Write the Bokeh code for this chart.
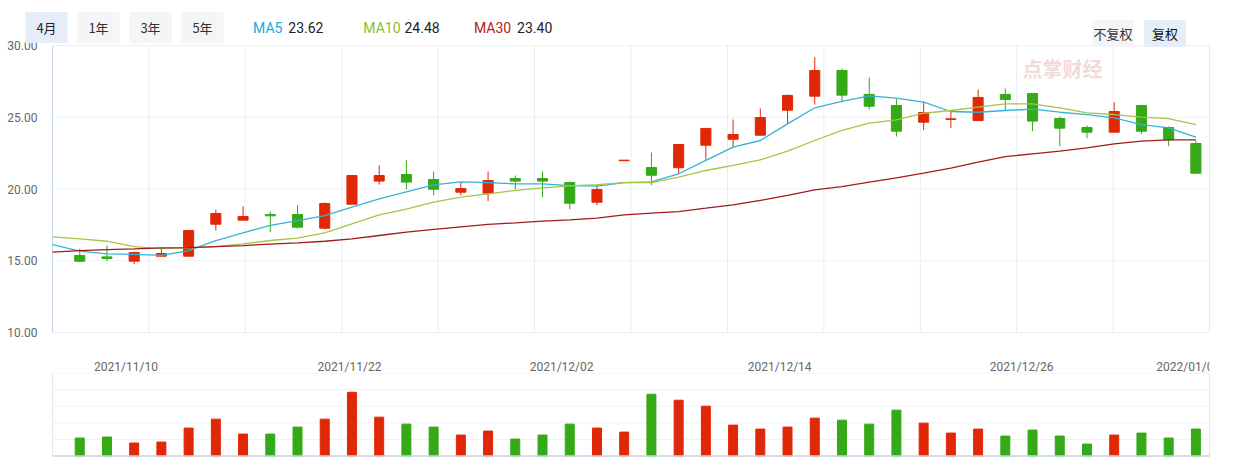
from bokeh.plotting import figure
from bokeh.models import Range1d, Label
from bokeh.layouts import column
from bokeh.core.properties import value
from bokeh.embed import file_html
from bokeh.resources import INLINE

# ---------------- data ----------------
day_index = list(range(1, 43))
open_ = [15.37, 15.27, 14.97, 15.32, 15.32, 17.55, 17.83, 18.22, 18.22, 17.27,
         18.94, 20.55, 21.01, 20.66, 19.78, 19.71, 20.73, 20.73, 20.45, 19.08,
         21.97, 21.50, 21.48, 23.05, 23.47, 23.75, 25.49, 26.47, 28.26, 26.59,
         25.82, 24.66, 24.84, 24.77, 26.59, 26.66, 24.91, 24.29, 23.96, 25.82,
         24.29, 23.17]
high = [15.83, 16.06, 15.64, 15.83, 17.11, 18.57, 18.80, 18.43, 18.87, 19.06,
        20.94, 21.66, 22.01, 21.22, 20.48, 21.22, 20.94, 21.22, 20.52, 20.31,
        22.01, 22.54, 23.10, 24.22, 24.84, 25.61, 26.59, 29.19, 28.40, 27.77,
        26.28, 26.07, 25.52, 26.93, 27.00, 26.66, 25.05, 24.42, 26.05, 25.82,
        24.36, 23.38]
low = [14.90, 14.97, 14.76, 15.32, 15.32, 17.11, 17.83, 16.99, 17.25, 17.18,
       18.94, 20.31, 19.97, 19.57, 19.57, 19.15, 19.97, 19.43, 18.59, 18.87,
       21.97, 20.27, 21.06, 22.03, 22.89, 23.75, 24.54, 25.89, 26.05, 25.54,
       23.66, 24.10, 24.24, 24.73, 25.47, 24.03, 22.98, 23.54, 23.96, 23.82,
       22.98, 21.10]
close = [14.97, 15.16, 15.57, 15.50, 17.11, 18.29, 18.08, 18.13, 17.34, 18.99,
         20.94, 20.94, 20.48, 19.99, 20.03, 20.59, 20.55, 20.55, 19.01, 19.97,
         22.01, 20.96, 23.10, 24.22, 23.80, 24.98, 26.52, 28.26, 26.54, 25.77,
         24.03, 25.33, 24.89, 26.38, 26.24, 24.73, 24.24, 23.96, 25.40, 24.03,
         23.43, 21.10]
volume = [1.08, 1.14, 0.78, 0.84, 1.68, 2.22, 1.32, 1.32, 1.74, 2.22,
          3.84, 2.34, 1.92, 1.74, 1.26, 1.50, 1.02, 1.26, 1.92, 1.68,
          1.44, 3.72, 3.36, 3.00, 1.86, 1.62, 1.74, 2.28, 2.16, 1.92,
          2.76, 1.98, 1.38, 1.62, 1.20, 1.56, 1.20, 0.72, 1.26, 1.38,
          1.08, 1.62]

ma_index = list(range(0, 43))
ma5 = [16.13, 15.67, 15.48, 15.44, 15.37, 15.71, 16.41, 16.95, 17.46, 17.80,
       18.15, 18.73, 19.31, 19.80, 20.29, 20.50, 20.45, 20.36, 20.36, 20.24,
       20.20, 20.45, 20.50, 21.06, 21.99, 22.92, 23.38, 24.54, 25.66, 26.10,
       26.49, 26.33, 26.05, 25.40, 25.35, 25.47, 25.56, 25.35, 25.19, 24.96,
       24.49, 24.26, 23.61]
ma10 = [16.67, 16.53, 16.36, 15.99, 15.85, 15.90, 15.99, 16.18, 16.41, 16.57,
        16.95, 17.57, 18.20, 18.60, 19.08, 19.43, 19.66, 19.90, 20.08, 20.22,
        20.31, 20.45, 20.45, 20.82, 21.29, 21.64, 22.03, 22.64, 23.38, 24.08,
        24.59, 24.82, 25.28, 25.47, 25.70, 25.93, 25.93, 25.66, 25.31, 25.19,
        25.01, 24.91, 24.49]
ma30 = [15.60, 15.71, 15.78, 15.83, 15.90, 15.92, 15.99, 16.06, 16.16, 16.25,
        16.36, 16.53, 16.76, 16.99, 17.18, 17.36, 17.53, 17.64, 17.76, 17.85,
        17.97, 18.20, 18.32, 18.43, 18.66, 18.90, 19.20, 19.55, 19.94, 20.17,
        20.48, 20.78, 21.10, 21.45, 21.87, 22.26, 22.45, 22.64, 22.87, 23.15,
        23.33, 23.43, 23.43]

ma_names = ["MA5", "MA10", "MA30"]
ma_last = ["23.62", "24.48", "23.40"]
price_ticks = [10, 15, 20, 25, 30]
volume_ticks = [0, 1, 2, 3, 4, 5]
date_labels = ["2021/11/10", "2021/11/22", "2021/12/02", "2021/12/14", "2021/12/26", "2022/01/07"]
date_pos = [2.70, 10.91, 18.70, 26.71, 35.60, 41.72]
period_buttons = ["4月", "1年", "3年", "5年"]
adjust_buttons = ["不复权", "复权"]
watermark = "点掌财经"

# ---------------- styles / layout ----------------
RED = "#e02806"
GREEN = "#35a916"
MA_COLORS = ["#34b3d9", "#a2c747", "#a31a1a"]
MA_TEXT_COLORS = ["#22a6d6", "#8cbd2a", "#b01c1c"]
GRID = "#edf1f6"
VGRID = "#e7ecf2"
BORDER = "#e3e9f0"
AXIS_BLUE = "#c5d5ea"
CJK = "Noto Sans CJK SC"

W = 1248
X_END = 42.5                      # plotted slots
PX_X = 1157 / X_END               # pixels per slot
PX_Y = 287 / 20.0                 # pixels per price unit
LEFT_PX = 52                      # plot area left edge on the canvas
TOP_PX = 45                       # price area top edge on the canvas
MAIN_H = 340
DATE_H = 32
VOL_H = 88
PX_V = 83 / 5.0                   # pixels per volume unit

x_lo, x_hi = -LEFT_PX / PX_X, (W - LEFT_PX) / PX_X

colors = [RED if c >= o else GREEN for o, c in zip(open_, close)]
body_top = [max(o, c) for o, c in zip(open_, close)]
body_bot = [min(o, c) for o, c in zip(open_, close)]


def bare_figure(height, y_range):
    f = figure(width=W, height=height, x_range=Range1d(x_lo, x_hi), y_range=y_range,
               output_backend="svg", toolbar_location=None,
               x_axis_location=None, y_axis_location=None,
               min_border_left=0, min_border_right=0, min_border_top=0, min_border_bottom=0,
               background_fill_color="white", border_fill_color="white",
               outline_line_color=None)
    f.grid.visible = False
    return f


# ---------------- main price chart ----------------
p = bare_figure(MAIN_H, Range1d(30 - (MAIN_H - TOP_PX) / PX_Y, 30 + TOP_PX / PX_Y))
lo, hi = price_ticks[0], price_ticks[-1]
n = len(price_ticks)
p.segment(x0=[0] * n, y0=price_ticks, x1=[X_END] * n, y1=price_ticks, line_color=GRID, line_width=1)
vlines = [X_END * k / 12 for k in range(1, 12)]
p.segment(x0=vlines, y0=[lo] * len(vlines), x1=vlines, y1=[hi] * len(vlines),
          line_color=VGRID, line_width=1)
p.segment(x0=[X_END], y0=[lo], x1=[X_END], y1=[hi], line_color=BORDER, line_width=1)
p.segment(x0=[0], y0=[lo], x1=[0], y1=[hi], line_color=AXIS_BLUE, line_width=1)

# y tick labels
p.text(x=[-15 / PX_X] * n, y=price_ticks,
       text=["%.2f" % t for t in price_ticks], text_align="right", text_baseline="middle",
       text_font=value("Roboto"), text_font_size="12px", text_color="#666666")

# candles
p.segment(x0=day_index, y0=low, x1=day_index, y1=high, line_color=colors, line_width=1)
p.vbar(x=day_index, width=0.37, top=body_top, bottom=body_bot,
       fill_color=colors, line_color=colors, line_width=1)

# moving averages
for ma, col in zip([ma5, ma10, ma30], MA_COLORS):
    p.line(ma_index, ma, line_color=col, line_width=1.3)

# header: period buttons
for i, t in enumerate(period_buttons):
    p.add_layout(Label(x=46 + 52 * i, y=27, x_units="canvas", y_units="canvas", text=t,
                       text_align="center", text_baseline="middle", text_font=CJK,
                       text_font_size="13px", text_color="#222222" if i == 0 else "#333333",
                       background_fill_color="#e5edf8" if i == 0 else "#f4f5f6",
                       padding=dict(left=11, right=11, top=6, bottom=6)))

# header: MA legend
legend_x = [252.6, 362.8, 473.4]
value_x = [287.8, 404.0, 516.6]
for name, val, col, lx, vx in zip(ma_names, ma_last, MA_TEXT_COLORS, legend_x, value_x):
    p.add_layout(Label(x=lx, y=27, x_units="canvas", y_units="canvas", text=name,
                       text_align="left", text_baseline="middle", text_font="Roboto",
                       text_font_size="14px", text_color=col))
    p.add_layout(Label(x=vx, y=27, x_units="canvas", y_units="canvas", text=val,
                       text_align="left", text_baseline="middle", text_font="Roboto",
                       text_font_size="14px", text_color="#222222"))

# header: adjust buttons
p.add_layout(Label(x=1112.5, y=33, x_units="canvas", y_units="canvas", text=adjust_buttons[0],
                   text_align="center", text_baseline="middle", text_font=CJK,
                   text_font_size="13px", text_color="#333333",
                   background_fill_color="#f4f5f6",
                   padding=dict(left=1, right=1, top=4, bottom=4)))
p.add_layout(Label(x=1164.5, y=33, x_units="canvas", y_units="canvas", text=adjust_buttons[1],
                   text_align="center", text_baseline="middle", text_font=CJK,
                   text_font_size="13px", text_color="#111111",
                   background_fill_color="#e5edf8",
                   padding=dict(left=8, right=8, top=4, bottom=4)))

# watermark
p.add_layout(Label(x=1062, y=68, x_units="canvas", y_units="canvas", text=watermark,
                   text_align="center", text_baseline="middle", text_font=CJK,
                   text_font_size="20px", text_font_style="bold", text_color="#f3d2d5",
                   text_alpha=0.85))

# ---------------- date label row ----------------
pdl = bare_figure(DATE_H, Range1d(0, DATE_H))
pdl.text(x=date_pos, y=[6] * len(date_pos), text=date_labels, text_align="center",
         text_baseline="middle", text_font=value("Roboto"), text_font_size="12px",
         text_color="#666666")
# the chart edge cuts the last label, as in the original
pdl.quad(left=[X_END], right=[x_hi], bottom=[0], top=[DATE_H], fill_color="white", line_color=None)

# ---------------- volume chart ----------------
v_top = volume_ticks[-1]
v_end = v_top + 0.5 / PX_V
pv = bare_figure(VOL_H, Range1d(v_end - VOL_H / PX_V, v_end))
nv = len(volume_ticks)
pv.segment(x0=[0] * nv, y0=volume_ticks, x1=[X_END] * nv, y1=volume_ticks, line_color=GRID, line_width=1)
pv.segment(x0=[0, X_END], y0=[0, 0], x1=[0, X_END], y1=[v_top, v_top], line_color=BORDER, line_width=1)
pv.vbar(x=day_index, width=0.33, top=volume, bottom=0,
        fill_color=colors, line_color=colors, line_width=1)
pv.segment(x0=[0], y0=[0], x1=[X_END], y1=[0], line_color=AXIS_BLUE, line_width=1.5)

layout = column(p, pdl, pv)
open("out.html", "w").write(file_html(layout, INLINE))
